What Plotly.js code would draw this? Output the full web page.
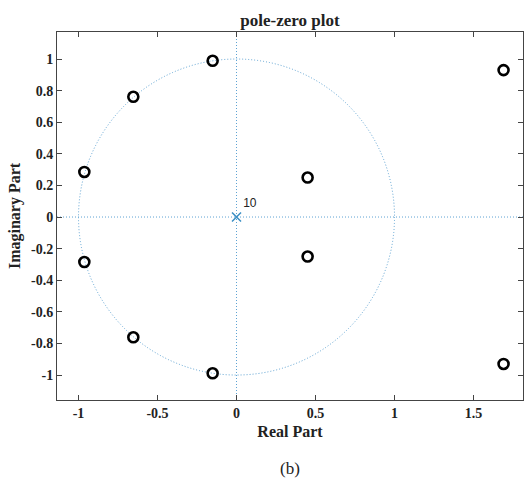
<!DOCTYPE html>
<html>
<head>
<meta charset="utf-8">
<script src="https://cdn.plot.ly/plotly-3.0.1.min.js"></script>
<style>html,body{margin:0;padding:0;background:#fff;}#chart{width:525px;height:482px;}</style>
</head>
<body>
<div id="chart"></div>
<script>
// Zeros (real, imaginary)
const zeroReal = [-0.151, -0.151, -0.653, -0.653, -0.963, -0.963, 0.45, 0.45, 1.69, 1.69];
const zeroImag = [0.989, -0.989, 0.761, -0.761, 0.285, -0.285, 0.25, -0.25, 0.93, -0.93];
// Poles
const poleReal = [0];
const poleImag = [0];
const poleMultiplicity = ["10"];
const xTickVals = [-1, -0.5, 0, 0.5, 1, 1.5];
const xTickText = ["-1", "-0.5", "0", "0.5", "1", "1.5"];
const yTickVals = [-1, -0.8, -0.6, -0.4, -0.2, 0, 0.2, 0.4, 0.6, 0.8, 1];
const yTickText = ["-1", "-0.8", "-0.6", "-0.4", "-0.2", "0", "0.2", "0.4", "0.6", "0.8", "1"];

const dotColor = '#5ea3d3';
const serif = '"Liberation Serif", "Times New Roman", serif';

const traces = [
  {
    x: zeroReal, y: zeroImag, type: 'scatter', mode: 'markers',
    marker: {symbol: 'circle-open', size: 10, color: '#000', line: {width: 2.6, color: '#000'}},
    hoverinfo: 'skip', showlegend: false
  },
  {
    x: poleReal, y: poleImag, type: 'scatter', mode: 'markers+text',
    text: poleMultiplicity, textposition: 'top right',
    textfont: {family: '"Liberation Sans", Arial, sans-serif', size: 12, color: '#222'},
    marker: {symbol: 'x-thin-open', size: 9, color: '#3b8fc4', line: {width: 1.5, color: '#3b8fc4'}},
    hoverinfo: 'skip', showlegend: false
  }
];

const layout = {
  width: 525, height: 482,
  margin: {l: 57, r: 2, t: 32, b: 82},
  paper_bgcolor: '#fff', plot_bgcolor: '#fff',
  title: {text: '<b>pole-zero plot</b>', x: 0.5523, xanchor: 'center', y: 0.958, yanchor: 'middle',
          font: {family: serif, size: 17, color: '#222'}},
  xaxis: {
    range: [-1.136, 1.813], tickvals: xTickVals, ticktext: xTickText,
    ticks: 'inside', ticklen: 5, tickcolor: '#444', mirror: 'ticks',
    showline: true, linecolor: '#444', linewidth: 1, showgrid: false, zeroline: false,
    tickfont: {family: serif, size: 14, color: '#222', weight: 'bold'},
    title: {text: '<b>Real Part</b>', font: {family: serif, size: 16, color: '#222'}, standoff: 6}
  },
  yaxis: {
    range: [-1.158, 1.171], tickvals: yTickVals, ticktext: yTickText,
    ticks: 'inside', ticklen: 5, tickcolor: '#444', mirror: 'ticks',
    showline: true, linecolor: '#444', linewidth: 1, showgrid: false, zeroline: false,
    tickfont: {family: serif, size: 14, color: '#222', weight: 'bold'},
    title: {text: '<b>Imaginary Part</b>', font: {family: serif, size: 16, color: '#222'}, standoff: 6}
  },
  shapes: [
    {type: 'circle', xref: 'x', yref: 'y', x0: -1, x1: 1, y0: -1, y1: 1,
     line: {color: dotColor, width: 1, dash: '1px,2px'}, layer: 'below'},
    {type: 'line', xref: 'x', yref: 'paper', x0: 0, x1: 0, y0: 0, y1: 1,
     line: {color: dotColor, width: 1, dash: '1px,2px'}, layer: 'below'},
    {type: 'line', xref: 'paper', yref: 'y', x0: 0, x1: 1, y0: 0, y1: 0,
     line: {color: dotColor, width: 1, dash: '1px,2px'}, layer: 'below'}
  ],
  annotations: [
    {text: '(b)', xref: 'paper', yref: 'paper', x: 0.5, y: -0.185, xanchor: 'center', yanchor: 'middle',
     showarrow: false, font: {family: serif, size: 17, color: '#222'}}
  ]
};

Plotly.newPlot('chart', traces, layout, {displayModeBar: false, staticPlot: true});
</script>
</body>
</html>
